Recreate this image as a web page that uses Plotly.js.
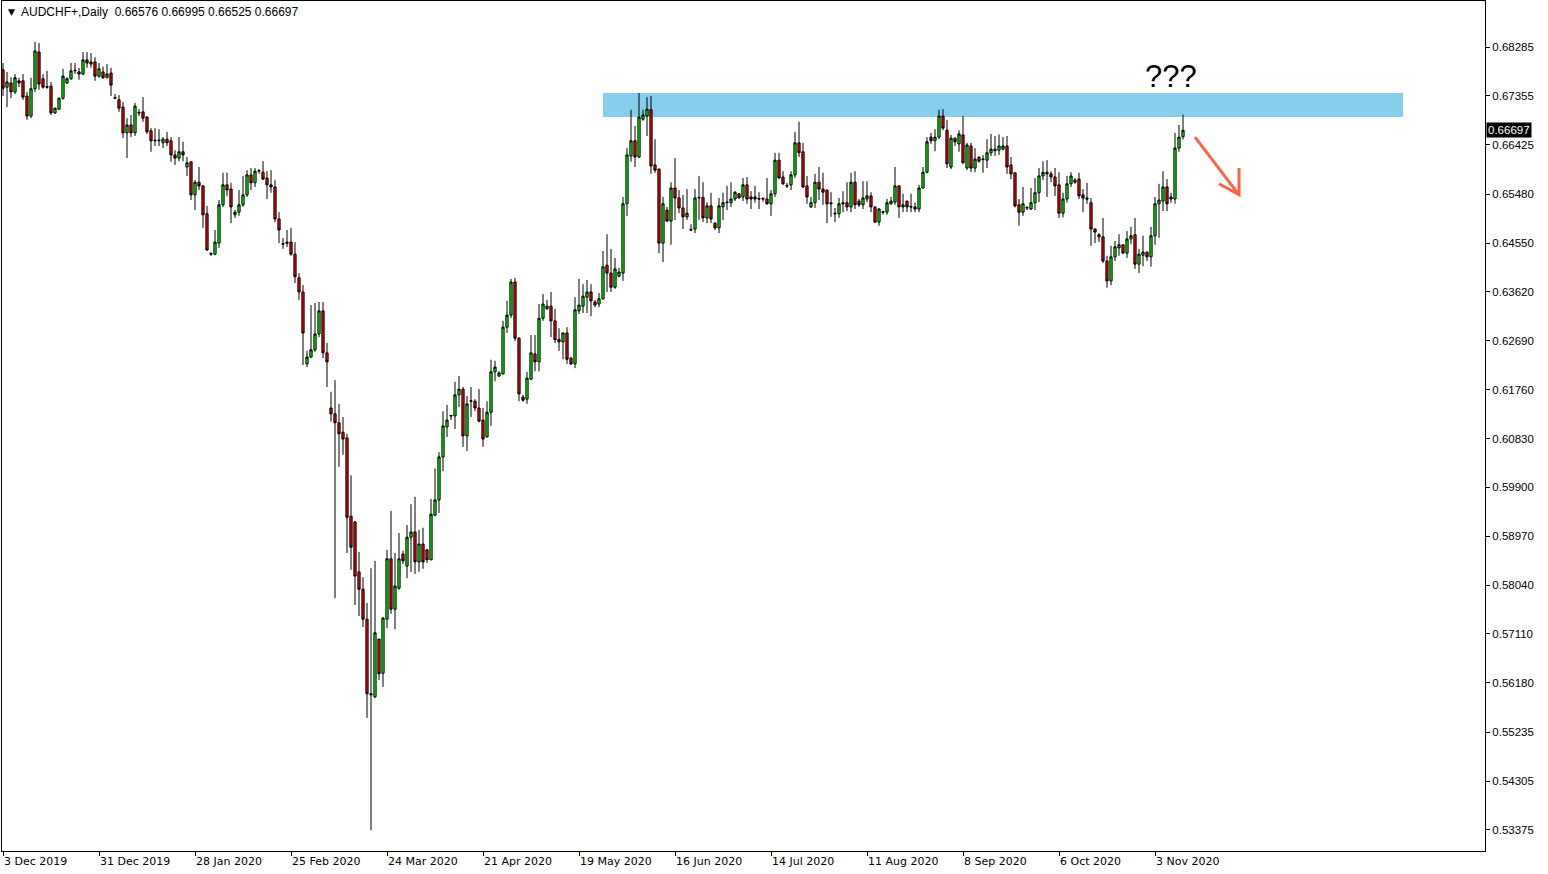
<!DOCTYPE html>
<html><head><meta charset="utf-8">
<script src="https://cdn.plot.ly/plotly-3.0.1.min.js"></script>
<style>html,body{margin:0;padding:0;background:#fff;overflow:hidden}#chart{width:1548px;height:874px}</style>
</head><body><div id="chart"></div>
<script>
const symbolTitle = "AUDCHF+,Daily";
const lastOHLC = ["0.66576", "0.66995", "0.66525", "0.66697"];

const openP = [
0.6785,0.6752,0.6760,0.6743,0.6764,0.6764,0.6735,0.6697,0.6749,0.6819,
0.6768,0.6753,0.6754,0.6703,0.6710,0.6731,0.6760,0.6768,0.6783,0.6781,
0.6777,0.6804,0.6796,0.6800,0.6773,0.6781,0.6770,0.6779,0.6732,0.6728,
0.6714,0.6665,0.6680,0.6665,0.6704,0.6705,0.6695,0.6669,0.6651,0.6650,
0.6646,0.6653,0.6650,0.6623,0.6617,0.6629,0.6600,0.6610,0.6547,0.6571,
0.6564,0.6511,0.6435,0.6434,0.6455,0.6528,0.6566,0.6558,0.6509,0.6514,
0.6528,0.6547,0.6585,0.6570,0.6592,0.6590,0.6579,0.6566,0.6562,0.6501,
0.6454,0.6457,0.6457,0.6434,0.6389,0.6362,0.6225,0.6238,0.6252,0.6282,
0.6326,0.6246,0.6141,0.6130,0.6113,0.6095,0.6084,0.5935,0.5924,0.5829,
0.5796,0.5739,0.5597,0.5591,0.5701,0.5636,0.5739,0.5854,0.5758,0.5798,
0.5863,0.5840,0.5895,0.5905,0.5848,0.5882,0.5871,0.5852,0.5937,0.5966,
0.6048,0.6105,0.6127,0.6126,0.6166,0.6177,0.6088,0.6155,0.6154,0.6141,
0.6118,0.6086,0.6133,0.6210,0.6202,0.6206,0.6295,0.6318,0.6381,0.6274,
0.6162,0.6158,0.6196,0.6244,0.6229,0.6312,0.6330,0.6335,0.6307,0.6272,
0.6267,0.6284,0.6236,0.6225,0.6326,0.6335,0.6352,0.6362,0.6343,0.6339,
0.6349,0.6413,0.6398,0.6371,0.6392,0.6398,0.6530,0.6621,0.6650,0.6619,
0.6691,0.6697,0.6709,0.6604,0.6596,0.6455,0.6518,0.6497,0.6560,0.6541,
0.6522,0.6505,0.6481,0.6482,0.6541,0.6542,0.6503,0.6526,0.6493,0.6484,
0.6524,0.6532,0.6532,0.6539,0.6549,0.6543,0.6566,0.6543,0.6543,0.6540,
0.6540,0.6539,0.6530,0.6549,0.6613,0.6581,0.6565,0.6566,0.6585,0.6646,
0.6629,0.6564,0.6524,0.6532,0.6571,0.6558,0.6556,0.6532,0.6512,0.6511,
0.6532,0.6532,0.6524,0.6571,0.6535,0.6528,0.6539,0.6545,0.6524,0.6495,
0.6515,0.6514,0.6530,0.6533,0.6564,0.6524,0.6535,0.6525,0.6524,0.6520,
0.6560,0.6590,0.6657,0.6650,0.6657,0.6697,0.6670,0.6600,0.6655,0.6644,
0.6661,0.6598,0.6640,0.6598,0.6619,0.6614,0.6613,0.6627,0.6631,0.6632,
0.6634,0.6640,0.6604,0.6589,0.6528,0.6514,0.6523,0.6520,0.6532,0.6551,
0.6583,0.6590,0.6587,0.6581,0.6566,0.6512,0.6539,0.6568,0.6571,0.6577,
0.6547,0.6541,0.6532,0.6482,0.6471,0.6467,0.6421,0.6383,0.6429,0.6446,
0.6452,0.6436,0.6463,0.6471,0.6415,0.6432,0.6438,0.6429,0.6469,0.6530,
0.6535,0.6562,0.6543,0.6539,0.6636,0.66576];

const highP = [
0.6798,0.6781,0.6771,0.6777,0.6770,0.6777,0.6743,0.6770,0.6838,0.6836,
0.6777,0.6783,0.6762,0.6713,0.6732,0.6787,0.6771,0.6798,0.6798,0.6789,
0.6819,0.6819,0.6817,0.6809,0.6798,0.6791,0.6796,0.6789,0.6739,0.6737,
0.6724,0.6693,0.6699,0.6722,0.6710,0.6733,0.6697,0.6674,0.6674,0.6672,
0.6657,0.6667,0.6657,0.6632,0.6657,0.6648,0.6619,0.6611,0.6575,0.6600,
0.6566,0.6526,0.6438,0.6480,0.6537,0.6589,0.6589,0.6570,0.6518,0.6556,
0.6583,0.6594,0.6598,0.6598,0.6596,0.6611,0.6592,0.6594,0.6575,0.6514,
0.6465,0.6480,0.6484,0.6457,0.6398,0.6375,0.6250,0.6337,0.6341,0.6343,
0.6343,0.6265,0.6172,0.6194,0.6149,0.6124,0.6092,0.6013,0.5926,0.5867,
0.5819,0.5770,0.5836,0.5850,0.5702,0.5743,0.5871,0.5945,0.5865,0.5903,
0.5869,0.5918,0.5958,0.5972,0.5909,0.5913,0.5872,0.5968,0.6026,0.6057,
0.6135,0.6147,0.6127,0.6191,0.6202,0.6181,0.6164,0.6181,0.6158,0.6177,
0.6141,0.6154,0.6233,0.6231,0.6211,0.6307,0.6345,0.6387,0.6389,0.6276,
0.6166,0.6210,0.6280,0.6280,0.6339,0.6358,0.6347,0.6362,0.6330,0.6293,
0.6285,0.6295,0.6238,0.6352,0.6387,0.6377,0.6385,0.6377,0.6347,0.6360,
0.6440,0.6472,0.6444,0.6427,0.6408,0.6543,0.6636,0.6709,0.6678,0.6741,
0.6709,0.6733,0.6735,0.6653,0.6597,0.6543,0.6524,0.6571,0.6617,0.6556,
0.6547,0.6558,0.6491,0.6558,0.6583,0.6571,0.6533,0.6551,0.6495,0.6541,
0.6551,0.6564,0.6571,0.6554,0.6550,0.6579,0.6581,0.6554,0.6564,0.6552,
0.6543,0.6579,0.6556,0.6627,0.6627,0.6592,0.6570,0.6592,0.6667,0.6686,
0.6646,0.6583,0.6543,0.6587,0.6600,0.6589,0.6557,0.6552,0.6522,0.6541,
0.6554,0.6571,0.6589,0.6592,0.6539,0.6573,0.6573,0.6552,0.6525,0.6522,
0.6516,0.6539,0.6543,0.6600,0.6565,0.6549,0.6536,0.6549,0.6532,0.6566,
0.6600,0.6657,0.6665,0.6672,0.6709,0.6710,0.6690,0.6661,0.6656,0.6670,
0.6697,0.6646,0.6646,0.6636,0.6620,0.6623,0.6653,0.6663,0.6659,0.6662,
0.6657,0.6659,0.6619,0.6589,0.6539,0.6562,0.6526,0.6560,0.6579,0.6598,
0.6611,0.6613,0.6592,0.6598,0.6590,0.6551,0.6583,0.6590,0.6579,0.6589,
0.6558,0.6570,0.6541,0.6483,0.6474,0.6503,0.6431,0.6450,0.6459,0.6472,
0.6453,0.6478,0.6486,0.6503,0.6444,0.6469,0.6439,0.6486,0.6543,0.6568,
0.6592,0.6577,0.6551,0.6665,0.6680,0.66995];

const lowP = [
0.6735,0.6714,0.6731,0.6739,0.6752,0.6728,0.6690,0.6693,0.6743,0.6747,
0.6749,0.6749,0.6699,0.6701,0.6709,0.6728,0.6758,0.6766,0.6777,0.6766,
0.6775,0.6789,0.6789,0.6764,0.6770,0.6768,0.6769,0.6735,0.6730,0.6705,
0.6655,0.6617,0.6657,0.6659,0.6697,0.6686,0.6663,0.6629,0.6640,0.6640,
0.6636,0.6640,0.6610,0.6604,0.6611,0.6611,0.6583,0.6537,0.6518,0.6556,
0.6484,0.6440,0.6431,0.6432,0.6446,0.6524,0.6545,0.6493,0.6503,0.6507,
0.6524,0.6543,0.6556,0.6562,0.6587,0.6575,0.6539,0.6551,0.6495,0.6455,
0.6444,0.6448,0.6431,0.6379,0.6347,0.6223,0.6219,0.6236,0.6248,0.6276,
0.6236,0.6181,0.6115,0.5779,0.6029,0.6052,0.5865,0.5833,0.5766,0.5745,
0.5724,0.5551,0.5337,0.5589,0.5623,0.5610,0.5722,0.5749,0.5720,0.5795,
0.5844,0.5817,0.5829,0.5825,0.5829,0.5835,0.5846,0.5851,0.5935,0.5941,
0.6021,0.6086,0.6118,0.6101,0.6143,0.6067,0.6059,0.6124,0.6135,0.6114,
0.6067,0.6085,0.6107,0.6192,0.6200,0.6205,0.6284,0.6312,0.6269,0.6154,
0.6153,0.6149,0.6194,0.6211,0.6211,0.6307,0.6328,0.6276,0.6265,0.6250,
0.6234,0.6225,0.6223,0.6217,0.6320,0.6322,0.6322,0.6316,0.6333,0.6333,
0.6347,0.6362,0.6362,0.6368,0.6391,0.6383,0.6507,0.6610,0.6600,0.6617,
0.6688,0.6659,0.6587,0.6589,0.6436,0.6419,0.6495,0.6452,0.6499,0.6512,
0.6482,0.6499,0.6479,0.6474,0.6499,0.6495,0.6493,0.6493,0.6480,0.6474,
0.6499,0.6518,0.6524,0.6535,0.6540,0.6535,0.6530,0.6520,0.6532,0.6520,
0.6534,0.6528,0.6507,0.6543,0.6578,0.6566,0.6560,0.6556,0.6579,0.6619,
0.6560,0.6530,0.6522,0.6522,0.6537,0.6528,0.6493,0.6505,0.6495,0.6503,
0.6514,0.6516,0.6514,0.6520,0.6524,0.6520,0.6533,0.6514,0.6494,0.6488,
0.6509,0.6509,0.6528,0.6528,0.6503,0.6514,0.6514,0.6514,0.6514,0.6514,
0.6559,0.6588,0.6644,0.6630,0.6653,0.6670,0.6598,0.6596,0.6640,0.6629,
0.6606,0.6594,0.6590,0.6590,0.6608,0.6589,0.6598,0.6621,0.6621,0.6623,
0.6632,0.6587,0.6577,0.6523,0.6488,0.6507,0.6518,0.6518,0.6518,0.6533,
0.6575,0.6543,0.6571,0.6545,0.6503,0.6504,0.6532,0.6562,0.6568,0.6539,
0.6514,0.6530,0.6450,0.6455,0.6457,0.6417,0.6370,0.6375,0.6421,0.6431,
0.6434,0.6427,0.6453,0.6406,0.6398,0.6411,0.6421,0.6410,0.6452,0.6465,
0.6516,0.6516,0.6532,0.6530,0.6629,0.66525];

const closeP = [
0.6750,0.6762,0.6743,0.6770,0.6760,0.6733,0.6697,0.6749,0.6821,0.6758,
0.6752,0.6752,0.6703,0.6712,0.6731,0.6773,0.6768,0.6783,0.6784,0.6777,
0.6804,0.6798,0.6800,0.6773,0.6787,0.6770,0.6777,0.6756,0.6731,0.6712,
0.6665,0.6680,0.6665,0.6716,0.6703,0.6693,0.6667,0.6650,0.6650,0.6651,
0.6653,0.6646,0.6623,0.6617,0.6629,0.6623,0.6608,0.6547,0.6571,0.6564,
0.6509,0.6442,0.6434,0.6457,0.6528,0.6566,0.6556,0.6524,0.6514,0.6528,
0.6547,0.6585,0.6570,0.6592,0.6593,0.6577,0.6566,0.6562,0.6501,0.6480,
0.6453,0.6455,0.6434,0.6391,0.6362,0.6284,0.6238,0.6252,0.6282,0.6326,
0.6246,0.6229,0.6130,0.6113,0.6092,0.6082,0.5933,0.5876,0.5821,0.5796,
0.5739,0.5597,0.5595,0.5713,0.5635,0.5741,0.5854,0.5758,0.5802,0.5854,
0.5850,0.5895,0.5905,0.5848,0.5882,0.5848,0.5852,0.5939,0.5966,0.6048,
0.6107,0.6118,0.6126,0.6166,0.6177,0.6088,0.6149,0.6154,0.6141,0.6116,
0.6082,0.6133,0.6210,0.6219,0.6208,0.6295,0.6318,0.6381,0.6274,0.6168,
0.6156,0.6198,0.6246,0.6229,0.6312,0.6339,0.6335,0.6307,0.6271,0.6267,
0.6284,0.6234,0.6225,0.6328,0.6337,0.6354,0.6362,0.6345,0.6337,0.6349,
0.6410,0.6398,0.6371,0.6406,0.6400,0.6530,0.6623,0.6650,0.6619,0.6695,
0.6699,0.6710,0.6602,0.6594,0.6455,0.6530,0.6497,0.6560,0.6541,0.6522,
0.6505,0.6512,0.6480,0.6541,0.6542,0.6503,0.6526,0.6501,0.6484,0.6526,
0.6532,0.6533,0.6539,0.6552,0.6541,0.6566,0.6539,0.6539,0.6539,0.6539,
0.6539,0.6530,0.6549,0.6613,0.6579,0.6568,0.6564,0.6585,0.6646,0.6627,
0.6562,0.6543,0.6532,0.6571,0.6558,0.6552,0.6530,0.6530,0.6511,0.6530,
0.6530,0.6524,0.6571,0.6528,0.6528,0.6541,0.6545,0.6524,0.6495,0.6520,
0.6514,0.6532,0.6535,0.6564,0.6524,0.6528,0.6524,0.6524,0.6520,0.6560,
0.6590,0.6648,0.6650,0.6657,0.6697,0.6674,0.6606,0.6655,0.6648,0.6663,
0.6608,0.6642,0.6598,0.6615,0.6611,0.6615,0.6627,0.6634,0.6634,0.6640,
0.6640,0.6600,0.6587,0.6526,0.6514,0.6530,0.6522,0.6532,0.6551,0.6583,
0.6590,0.6587,0.6581,0.6564,0.6512,0.6539,0.6568,0.6583,0.6575,0.6545,
0.6541,0.6539,0.6482,0.6476,0.6467,0.6421,0.6383,0.6429,0.6448,0.6452,
0.6436,0.6463,0.6469,0.6415,0.6434,0.6438,0.6429,0.6469,0.6530,0.6537,
0.6562,0.6530,0.6539,0.6636,0.6657,0.66697];

const dateLabels = ["3 Dec 2019","31 Dec 2019","28 Jan 2020","25 Feb 2020","24 Mar 2020","21 Apr 2020",
  "19 May 2020","16 Jun 2020","14 Jul 2020","11 Aug 2020","8 Sep 2020","6 Oct 2020","3 Nov 2020"];
const dateLabelBars = [0,24,48,72,96,120,144,168,192,216,240,264,288];

const priceLabels = ["0.68285","0.67355","0.66425","0.65480","0.64550","0.63620","0.62690","0.61760",
  "0.60830","0.59900","0.58970","0.58040","0.57110","0.56180","0.55235","0.54305","0.53375"];

// drawn objects on the chart (resistance zone, question marks, arrow)
const zone = {fromBar: 150, toBar: 350, low: 0.6695, high: 0.6741, color: "#87CEEB"};
const questionMark = {text: "???", bar: 292, price: 0.6772};
const arrow = {fromBar: 298, fromPrice: 0.6657, toBar: 309, toPrice: 0.6547,
               wingBar: 304, wingPrice: 0.6568, wing2Price: 0.6598, color: "#FF6347"};

const bars = openP.map((_, i) => i);

const trace = {
  type: "candlestick",
  x: bars, open: openP, high: highP, low: lowP, close: closeP,
  increasing: {line: {color: "#000000", width: 1}, fillcolor: "#00FF00"},
  decreasing: {line: {color: "#000000", width: 1}, fillcolor: "#FF0000"},
  whiskerwidth: 0,
  hoverinfo: "skip",
  showlegend: false
};

const layout = {
  width: 1548, height: 874,
  margin: {l: 2, r: 63, t: 1, b: 23, pad: 0},
  paper_bgcolor: "#ffffff", plot_bgcolor: "#ffffff",
  showlegend: false,
  boxgap: 0.2,
  font: {family: "Liberation Sans, Arial, sans-serif", size: 11, color: "#000"},
  xaxis: {
    type: "linear", range: [-0.25, 370.5], fixedrange: true,
    rangeslider: {visible: false},
    showgrid: false, zeroline: false,
    showline: true, linecolor: "#000", linewidth: 1, mirror: true,
    ticks: "outside", ticklen: 4, tickcolor: "#000",
    tickmode: "array", tickvals: dateLabelBars, ticktext: dateLabels,
    ticklabelposition: "outside right",
    tickfont: {family: "DejaVu Sans, sans-serif", size: 11, color: "#000"}
  },
  yaxis: {
    side: "right", range: [0.52975, 0.69161], fixedrange: true,
    showgrid: false, zeroline: false,
    showline: true, linecolor: "#000", linewidth: 1, mirror: true,
    ticks: "outside", ticklen: 4, tickcolor: "#000",
    tickmode: "array", tickvals: priceLabels.map(Number), ticktext: priceLabels,
    tickfont: {family: "Liberation Sans, Arial, sans-serif", size: 11.5, color: "#000"}
  },
  shapes: [
    {type: "rect", layer: "below", xref: "x", yref: "y",
     x0: zone.fromBar, x1: zone.toBar, y0: zone.low, y1: zone.high,
     fillcolor: zone.color, line: {width: 0}},
    {type: "path", layer: "above", xref: "x", yref: "y",
     path: `M ${arrow.fromBar},${arrow.fromPrice} L ${arrow.toBar},${arrow.toPrice} ` +
           `M ${arrow.wingBar},${arrow.wingPrice} L ${arrow.toBar},${arrow.toPrice} L ${arrow.toBar},${arrow.wing2Price}`,
     line: {color: arrow.color, width: 3}}
  ],
  annotations: [
    {xref: "paper", yref: "paper", x: 0.0025, y: 0.9875, xanchor: "left", yanchor: "middle",
     text: "▼", showarrow: false, font: {family: "DejaVu Sans, sans-serif", size: 9, color: "#000"}},
    {xref: "paper", yref: "paper", x: 0.0118, y: 0.9875, xanchor: "left", yanchor: "middle",
     text: symbolTitle + "  " + lastOHLC.join(" "), showarrow: false,
     font: {family: "Liberation Sans, Arial, sans-serif", size: 12, color: "#000"}},
    {xref: "x", yref: "y", x: questionMark.bar, y: questionMark.price, xanchor: "center", yanchor: "middle",
     text: questionMark.text, showarrow: false,
     font: {family: "Liberation Sans, Arial, sans-serif", size: 31, color: "#000"}},
    {xref: "paper", yref: "y", x: 1, y: Number(lastOHLC[3]), xanchor: "left", yanchor: "middle",
     xshift: 1, text: lastOHLC[3], showarrow: false, bgcolor: "#000", borderpad: 1,
     font: {family: "Liberation Sans, Arial, sans-serif", size: 11.5, color: "#fff"}}
  ]
};

Plotly.newPlot("chart", [trace], layout, {staticPlot: true, displayModeBar: false});
</script>
</body></html>
